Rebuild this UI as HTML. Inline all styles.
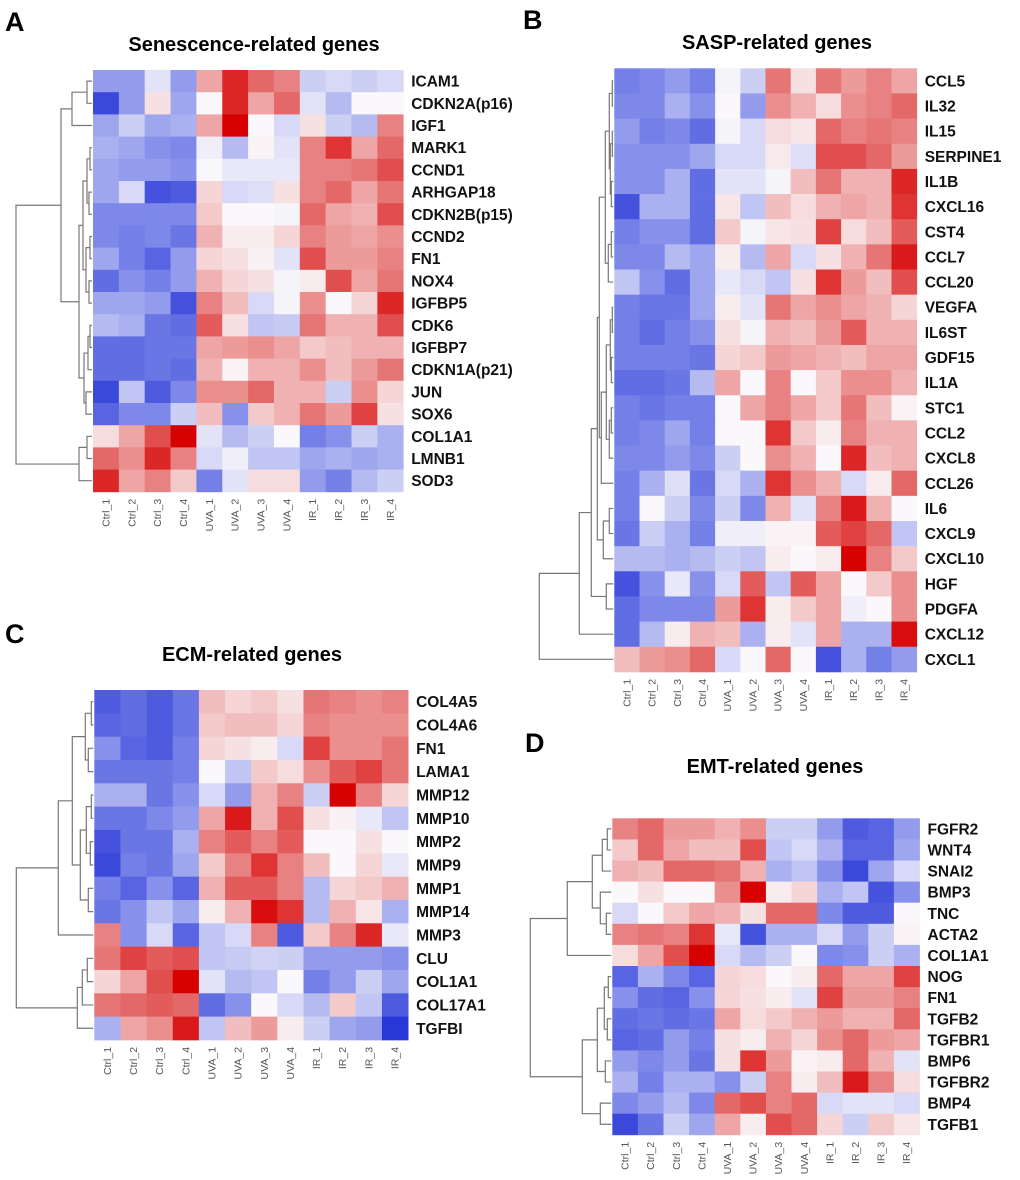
<!DOCTYPE html>
<html><head><meta charset="utf-8"><style>
html,body{margin:0;padding:0;background:#fff;}
svg{display:block;font-family:"Liberation Sans",Arial,sans-serif;}
</style></head><body>
<svg id="fig" width="1020" height="1180" viewBox="0 0 1020 1180" xmlns="http://www.w3.org/2000/svg"></svg>
<script>
const sampleLabels = ["Ctrl_1","Ctrl_2","Ctrl_3","Ctrl_4","UVA_1","UVA_2","UVA_3","UVA_4","IR_1","IR_2","IR_3","IR_4"];

const senGenes = ["ICAM1","CDKN2A(p16)","IGF1","MARK1","CCND1","ARHGAP18","CDKN2B(p15)","CCND2","FN1","NOX4","IGFBP5","CDK6","IGFBP7","CDKN1A(p21)","JUN","SOX6","COL1A1","LMNB1","SOD3"];
const senValues = [
[-0.45,-0.45,-0.1,-0.45,0.35,0.85,0.6,0.5,-0.2,-0.15,-0.2,-0.15],
[-0.9,-0.45,0.1,-0.4,0,0.85,0.35,0.6,-0.1,-0.3,0,0],
[-0.4,-0.2,-0.4,-0.35,0.35,1,0,-0.15,0.1,-0.2,-0.3,0.5],
[-0.35,-0.4,-0.5,-0.55,-0.05,-0.3,0.02,-0.1,0.5,0.8,0.35,0.6],
[-0.4,-0.45,-0.45,-0.5,0,-0.08,-0.08,-0.08,0.5,0.5,0.55,0.7],
[-0.4,-0.15,-0.85,-0.8,0.15,-0.15,-0.12,0.1,0.5,0.6,0.35,0.55],
[-0.55,-0.55,-0.55,-0.55,0.2,0,0,-0.02,0.6,0.35,0.3,0.7],
[-0.55,-0.6,-0.55,-0.65,0.3,0.05,0.05,0.15,0.5,0.4,0.35,0.45],
[-0.4,-0.6,-0.75,-0.45,0.15,0.1,0.03,-0.1,0.7,0.4,0.4,0.5],
[-0.7,-0.5,-0.6,-0.45,0.3,0.15,0.1,-0.02,0.05,0.7,0.35,0.55],
[-0.4,-0.4,-0.45,-0.85,0.5,0.25,-0.15,-0.02,0.45,0,0.15,0.85],
[-0.3,-0.35,-0.65,-0.7,0.65,0.1,-0.25,-0.22,0.55,0.3,0.3,0.7],
[-0.7,-0.7,-0.65,-0.65,0.35,0.4,0.45,0.35,0.2,0.25,0.3,0.3],
[-0.7,-0.7,-0.65,-0.7,0.3,0.02,0.3,0.3,0.45,0.25,0.4,0.55],
[-0.9,-0.25,-0.8,-0.55,0.45,0.45,0.6,0.3,0.3,-0.2,0.45,0.15],
[-0.75,-0.55,-0.55,-0.2,0.25,-0.5,0.2,0.3,0.55,0.4,0.75,0.1],
[0.12,0.35,0.7,1,-0.1,-0.3,-0.2,0,-0.6,-0.5,-0.2,-0.35],
[0.6,0.45,0.85,0.5,-0.15,-0.05,-0.25,-0.25,-0.4,-0.35,-0.4,-0.35],
[0.85,0.35,0.5,0.2,-0.6,-0.1,0.12,0.12,-0.45,-0.6,-0.3,-0.2]];

const saspGenes = ["CCL5","IL32","IL15","SERPINE1","IL1B","CXCL16","CST4","CCL7","CCL20","VEGFA","IL6ST","GDF15","IL1A","STC1","CCL2","CXCL8","CCL26","IL6","CXCL9","CXCL10","HGF","PDGFA","CXCL12","CXCL1"];
const saspValues = [
[-0.6,-0.55,-0.45,-0.6,-0.02,-0.2,0.55,0.1,0.55,0.4,0.5,0.35],
[-0.55,-0.55,-0.35,-0.5,0,-0.45,0.45,0.3,0.12,0.45,0.5,0.6],
[-0.45,-0.6,-0.55,-0.7,-0.02,-0.15,0.12,0.08,0.6,0.5,0.55,0.5],
[-0.5,-0.5,-0.5,-0.4,-0.15,-0.15,0.06,-0.12,0.7,0.7,0.6,0.4],
[-0.5,-0.5,-0.35,-0.7,-0.1,-0.1,-0.02,0.25,0.55,0.3,0.3,0.85],
[-0.85,-0.35,-0.35,-0.7,0.08,-0.25,0.25,0.12,0.3,0.35,0.3,0.8],
[-0.6,-0.5,-0.5,-0.7,0.2,-0.02,0.08,0.1,0.75,0.12,0.25,0.65],
[-0.55,-0.55,-0.3,-0.4,0.05,-0.3,0.35,-0.15,0.1,0.3,0.55,0.9],
[-0.25,-0.5,-0.7,-0.4,-0.08,-0.15,-0.25,0.1,0.8,0.4,0.25,0.7],
[-0.6,-0.65,-0.65,-0.4,0.05,-0.1,0.55,0.35,0.45,0.35,0.3,0.15],
[-0.6,-0.7,-0.6,-0.5,0.1,-0.02,0.3,0.25,0.4,0.65,0.3,0.3],
[-0.6,-0.6,-0.6,-0.65,0.15,0.2,0.4,0.35,0.3,0.25,0.35,0.35],
[-0.7,-0.7,-0.65,-0.3,0.35,0,0.5,0,0.2,0.45,0.45,0.3],
[-0.6,-0.65,-0.6,-0.6,0,0.35,0.5,0.35,0.2,0.55,0.25,0.02],
[-0.6,-0.55,-0.4,-0.6,0,0,0.8,0.2,0.05,0.5,0.3,0.3],
[-0.55,-0.55,-0.45,-0.55,-0.2,0,0.45,0.3,0,0.85,0.25,0.3],
[-0.6,-0.35,-0.12,-0.65,-0.15,-0.35,0.8,0.45,0.3,-0.15,0.05,0.6],
[-0.6,0,-0.2,-0.55,-0.2,-0.55,0.3,-0.1,0.5,0.9,0.3,0],
[-0.65,-0.2,-0.35,-0.6,-0.05,-0.05,0.02,0.02,0.65,0.75,0.6,-0.25],
[-0.3,-0.3,-0.35,-0.3,-0.2,-0.25,0.05,0,0.05,1,0.5,0.2],
[-0.85,-0.5,-0.08,-0.5,-0.15,0.65,-0.25,0.65,0.35,0,0.2,0.45],
[-0.7,-0.55,-0.55,-0.55,0.4,0.8,0.05,0.2,0.35,-0.05,0,0.45],
[-0.7,-0.3,0.05,0.3,0.25,-0.35,0.05,-0.1,0.35,-0.35,-0.35,0.95],
[0.25,0.4,0.45,0.6,-0.15,0,0.6,0,-0.85,-0.35,-0.6,-0.45]];

const ecmGenes = ["COL4A5","COL4A6","FN1","LAMA1","MMP12","MMP10","MMP2","MMP9","MMP1","MMP14","MMP3","CLU","COL1A1","COL17A1","TGFBI"];
const ecmValues = [
[-0.8,-0.7,-0.8,-0.65,0.25,0.15,0.2,0.1,0.55,0.5,0.45,0.5],
[-0.75,-0.7,-0.8,-0.65,0.2,0.25,0.25,0.15,0.5,0.45,0.45,0.45],
[-0.5,-0.75,-0.8,-0.6,0.15,0.1,0.05,-0.15,0.75,0.45,0.45,0.55],
[-0.65,-0.65,-0.65,-0.6,0,-0.25,0.2,0.12,0.45,0.65,0.75,0.55],
[-0.35,-0.35,-0.65,-0.5,-0.15,-0.45,0.3,0.5,-0.2,1,0.5,0.15],
[-0.65,-0.65,-0.55,-0.45,0.35,0.9,0.3,0.7,0.1,0.03,-0.08,-0.25],
[-0.85,-0.65,-0.65,-0.35,0.5,0.65,0.5,0.65,0,0,0.1,0],
[-0.9,-0.6,-0.65,-0.4,0.2,0.5,0.8,0.5,0.25,0,0.15,-0.08],
[-0.6,-0.75,-0.5,-0.75,0.3,0.65,0.65,0.5,-0.3,0.15,0.2,0.3],
[-0.65,-0.5,-0.25,-0.4,0.05,0.3,0.95,0.8,-0.3,0.3,0.08,-0.35],
[0.5,-0.5,-0.15,-0.75,-0.25,-0.15,0.5,-0.8,0.2,0.5,0.85,-0.08],
[0.55,0.75,0.65,0.7,-0.25,-0.22,-0.18,-0.2,-0.45,-0.45,-0.45,-0.5],
[0.15,0.35,0.7,1,-0.1,-0.3,-0.25,0,-0.6,-0.45,-0.2,-0.4],
[0.55,0.6,0.65,0.6,-0.7,-0.5,0,-0.15,-0.3,0.2,-0.25,-0.8],
[-0.35,0.35,0.45,0.9,-0.25,0.25,0.4,0.05,-0.2,-0.4,-0.45,-1]];

const emtGenes = ["FGFR2","WNT4","SNAI2","BMP3","TNC","ACTA2","COL1A1","NOG","FN1","TGFB2","TGFBR1","BMP6","TGFBR2","BMP4","TGFB1"];
const emtValues = [
[0.5,0.6,0.4,0.4,0.3,0.45,-0.2,-0.2,-0.45,-0.8,-0.75,-0.45],
[0.2,0.6,0.35,0.25,0.25,0.7,-0.25,-0.15,-0.35,-0.75,-0.75,-0.4],
[0.3,0.25,0.6,0.6,0.55,0.3,-0.35,-0.25,-0.5,-0.9,-0.4,-0.15],
[0,0.1,0,0,0.45,1,0.05,0.15,-0.35,-0.25,-0.85,-0.5],
[-0.15,0,0.2,0.35,0.3,0.1,0.6,0.6,-0.55,-0.8,-0.8,0],
[0.5,0.55,0.5,0.8,-0.08,-0.85,-0.35,-0.35,-0.15,-0.45,-0.2,0.02],
[0.12,0.35,0.7,1,-0.15,-0.3,-0.2,0,-0.55,-0.5,-0.2,-0.35],
[-0.75,-0.35,-0.55,-0.75,0.15,0.12,0,0.05,0.6,0.35,0.35,0.75],
[-0.5,-0.7,-0.75,-0.5,0.15,0.1,0.05,-0.1,0.75,0.4,0.4,0.5],
[-0.7,-0.65,-0.7,-0.65,0.35,0.12,0.2,0.3,0.4,0.3,0.3,0.6],
[-0.75,-0.7,-0.45,-0.6,0.1,0.05,0.3,0.15,0.45,0.6,0.4,0.35],
[-0.45,-0.55,-0.45,-0.65,0.1,0.8,0.4,0.02,0.05,0.6,0.3,-0.1],
[-0.35,-0.6,-0.35,-0.35,-0.5,-0.2,0.5,0.05,0.25,0.9,0.5,0.12],
[-0.55,-0.45,-0.3,-0.55,0.6,0.7,0.5,0.6,-0.15,-0.1,-0.1,-0.15],
[-0.9,-0.65,-0.2,-0.4,0.35,0.05,0.7,0.6,0.15,-0.2,0.2,0.08]];

// dendrogram topologies: [mergeHeight, left, right]; leaves are row indices
const treeA = [77,[32,[21,[6,0,1],2],[14,[10,[6,[3,3,4],[4,5,6]],[7,[3,7,8],[4,9,10]]],[9,[5,[3,11,12],13],[7,14,15]]]],[14,[6,16,17],18]];
const treeB = [75,[35,[23,[17,[15,[9,[5,[2,0,1],[4,[2,2,3],[3,4,5]]],[6,[3,6,7],8]],[13,[8,[4,[2,9,10],[3,11,12]],[5,[3,13,14],15]],16]],[11,[5,17,18],19]],[8,20,21]],22],23];
const treeC = [78,[36,[22,[9,[3,0,1],[6,2,3]],[14,[8,[3,4,5],[4,6,7]],[6,8,9]]],10],[17,[12,[7,11,12],13],14]];
const treeD = [82,[45,[20,[10,[5,0,1],2],[12,3,[6,4,5]]],6],[30,[15,[8,[4,7,8],[5,9,10]],[7,11,12]],[12,13,14]]];

const NS = "http://www.w3.org/2000/svg";
const svg = document.getElementById("fig");
function mk(tag, attrs, parent){const e=document.createElementNS(NS,tag);for(const k in attrs)e.setAttribute(k,attrs[k]);(parent||svg).appendChild(e);return e;}

const stops=[[-1,[40,55,215]],[-0.5,[135,145,235]],[0,[250,248,250]],[0.5,[232,130,130]],[1,[215,0,0]]];
function color(v){v=Math.max(-1,Math.min(1,v));for(let i=0;i<stops.length-1;i++){const a=stops[i],b=stops[i+1];if(v<=b[0]){const t=(v-a[0])/(b[0]-a[0]);const c=a[1].map((x,j)=>Math.round(x+(b[1][j]-x)*t));return `rgb(${c[0]},${c[1]},${c[2]})`;}}return "rgb(215,0,0)";}

function panel(cfg){
  const g=mk("g",{});
  
  
  const xScale=i=>cfg.left+i*cfg.cw;
  const yScale=i=>cfg.top+i*cfg.rh;
  const L=mk("text",{x:cfg.letterX,y:cfg.letterY,"font-size":27,"font-weight":"bold",fill:"#000"},g);
  L.textContent=cfg.letter;
  
  
  const T=mk("text",{x:cfg.titleX,y:cfg.titleY,"font-size":20,"font-weight":"bold","text-anchor":"middle",fill:"#000"},g);
  T.textContent=cfg.title;
  
  
  cfg.values.forEach((row,r)=>row.forEach((v,c)=>{
    const rc=mk("rect",{x:xScale(c),y:yScale(r),width:cfg.cw+0.4,height:cfg.rh+0.4,fill:color(v)},g);
    
    
  }));
  cfg.genes.forEach((gname,r)=>{
    const t=mk("text",{x:cfg.left+12*cfg.cw+8,y:yScale(r)+cfg.rh/2+5.5,"font-size":cfg.fs,"font-weight":"bold",fill:"#111"},g);
    t.textContent=gname;
    
    
  });
  const yb=yScale(cfg.genes.length);
  sampleLabels.forEach((s,c)=>{
    const cx=xScale(c)+cfg.cw/2+3.5, cy=yb+7;
    const t=mk("text",{x:cx,y:cy,"font-size":10.5,"text-anchor":"end",fill:"#555",transform:`rotate(-90 ${cx} ${cy})`},g);
    t.textContent=s;
    
    
  });
  let d="";
  function walk(n){
    if(typeof n==="number") return {x:cfg.left-1,y:yScale(n)+cfg.rh/2};
    const x=cfg.left-n[0];
    const a=walk(n[1]),b=walk(n[2]);
    d+=`M${a.x},${a.y}H${x}V${b.y}H${b.x}`;
    return {x:x,y:(a.y+b.y)/2};
  }
  walk(cfg.tree);
  const p=mk("path",{d:d,fill:"none",stroke:"#777","stroke-width":1.2},g);
  
  
}

panel({name:"panel-a-senescence",letter:"A",letterX:5,letterY:31,title:"Senescence-related genes",titleX:254,titleY:51,left:93,top:70,cw:25.85,rh:22.2,fs:15.5,genes:senGenes,values:senValues,tree:treeA});
panel({name:"panel-b-sasp",letter:"B",letterX:523,letterY:29,title:"SASP-related genes",titleX:777,titleY:49,left:614.3,top:68.3,cw:25.2,rh:25.15,fs:15.5,genes:saspGenes,values:saspValues,tree:treeB});
panel({name:"panel-c-ecm",letter:"C",letterX:5,letterY:643,title:"ECM-related genes",titleX:252,titleY:661,left:94.3,top:690,cw:26.15,rh:23.33,fs:15.5,genes:ecmGenes,values:ecmValues,tree:treeC});
panel({name:"panel-d-emt",letter:"D",letterX:525,letterY:752,title:"EMT-related genes",titleX:775,titleY:773,left:612.3,top:818.3,cw:25.6,rh:21.1,fs:15.5,genes:emtGenes,values:emtValues,tree:treeD});
</script>
</body></html>
